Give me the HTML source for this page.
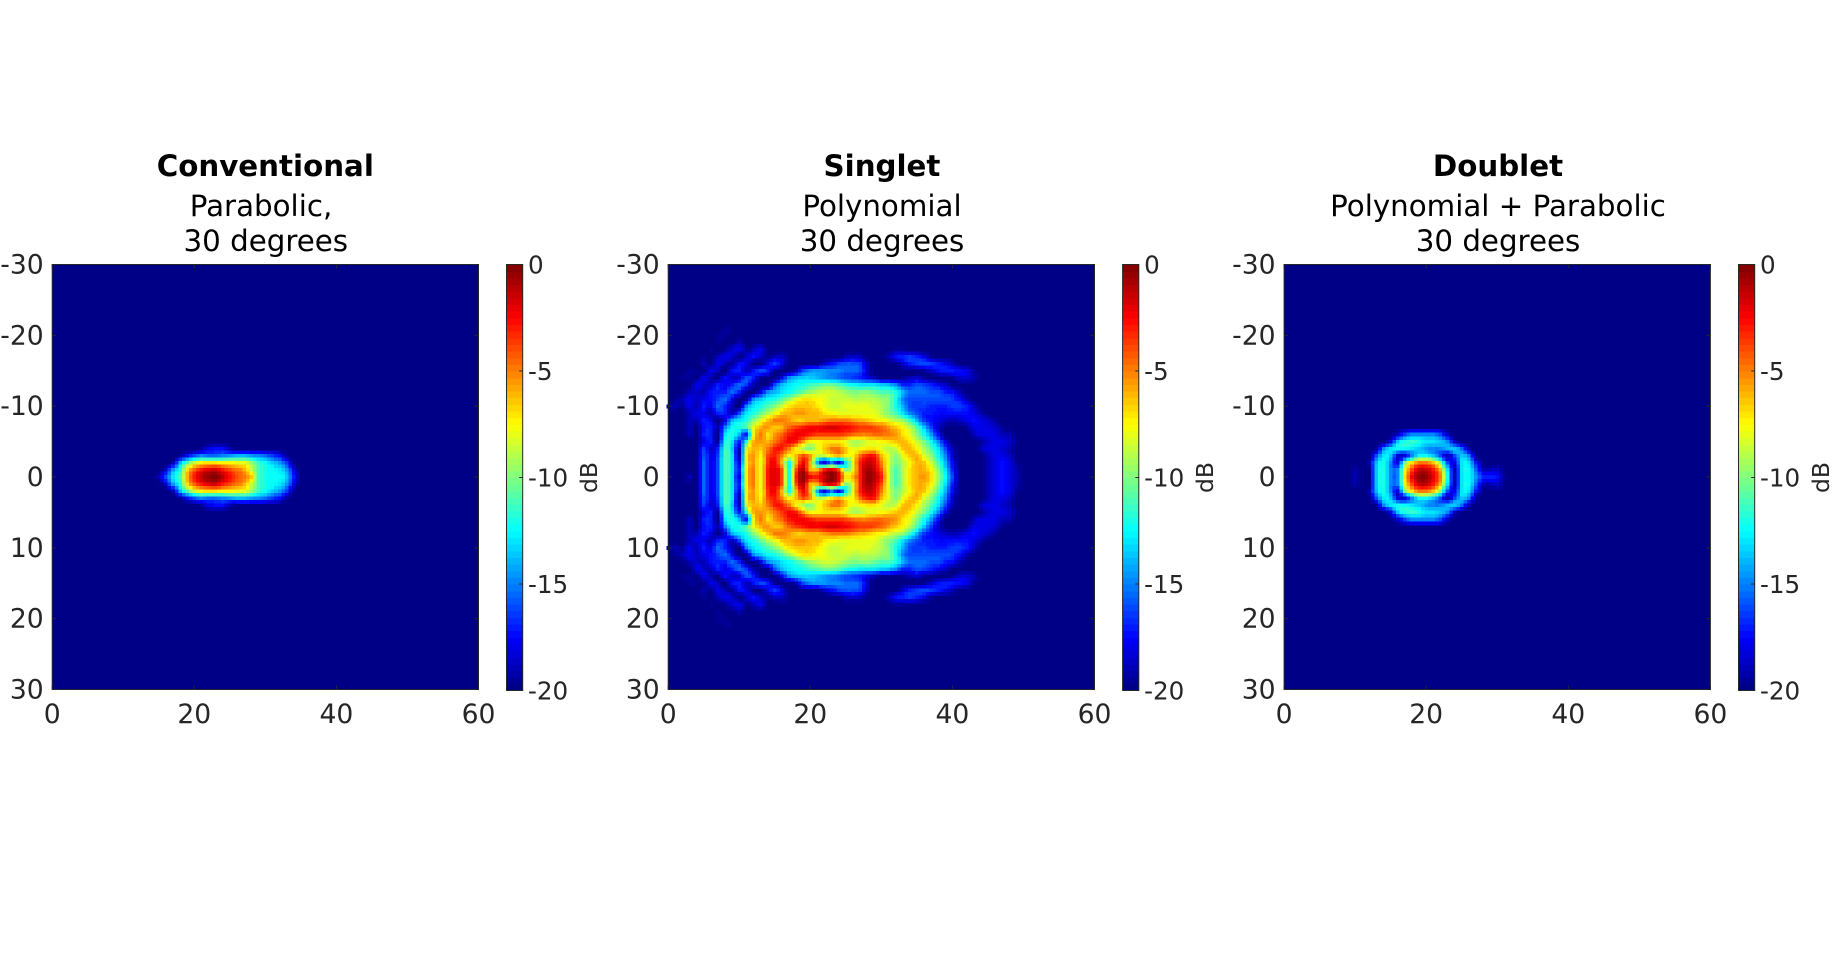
<!DOCTYPE html>
<html lang="en">
<head>
<meta charset="utf-8">
<title>Conventional, Singlet and Doublet heatmaps</title>
<style>
  html, body { margin: 0; padding: 0; background: #fff; width: 1848px; height: 954px; overflow: hidden; }
  svg { display: block; font-family: "DejaVu Sans", "Liberation Sans", sans-serif; }
  .title { font-size: 29.3px; font-weight: bold; fill: #000; text-anchor: middle; }
  .sub { font-size: 29.3px; fill: #000; text-anchor: middle; }
</style>
</head>
<body>
<svg id="chart" xmlns="http://www.w3.org/2000/svg" width="1848" height="954" viewBox="0 0 1848 954">
  <rect x="0" y="0" width="1848" height="954" fill="#fff"/>
  <g>
    <text class="title" x="265.3" y="176">Conventional</text>
    <text class="sub" x="261" y="216">Parabolic,</text>
    <text class="sub" x="265.8" y="251">30 degrees</text>
  </g>
  <g>
    <text class="title" x="882" y="176">Singlet</text>
    <text class="sub" x="882" y="216">Polynomial</text>
    <text class="sub" x="882" y="251">30 degrees</text>
  </g>
  <g>
    <text class="title" x="1498" y="176">Doublet</text>
    <text class="sub" x="1498" y="216">Polynomial + Parabolic</text>
    <text class="sub" x="1498" y="251">30 degrees</text>
  </g>
</svg>
<script>
// Tick labels
const xTickValues = [0, 20, 40, 60];
const yTickValues = [-30, -20, -10, 0, 10, 20, 30];
const colorbarTickValues = [0, -5, -10, -15, -20];

// Heatmap values in dB. Row index = |elevation| in degrees (the pattern is mirrored about 0).
// Each row starts at the azimuth given in the matching *FirstX array, one value per degree.
const conventionalFirstX = [14, 15, 16, 18, 21];
const conventionalDb = [
  [-20,-19,-16,-13,-11,-6,-3,-1.3,-0.4,-0.2,-1.2,-2.8,-4,-5,-6.5,-11,-12,-12.5,-12.5,-13.5,-17,-20],
  [-20,-18.5,-14.5,-12,-7,-4.5,-3,-2,-1.7,-3,-4,-4.8,-6,-8.5,-11,-12,-12.5,-13,-14.5,-18,-20],
  [-20,-19,-14,-11,-8.5,-7.5,-7,-7,-7.5,-7.5,-8,-8,-9.5,-11.5,-12.5,-13.5,-14.5,-16.5,-20],
  [-19.5,-17.5,-16,-15,-15.5,-15.5,-15,-14.5,-14,-14,-14.5,-15,-15.5,-16.5,-17.5,-19.5,-20],
  [-19.5,-18,-17.5,-17.5,-19,-20]
];

const singletFirstX = [3, 5, 5, 5, 5, 5, 3, 3, 3, 3, 0, 1, 2, 3, 2, 3, 4, 5, 6, 7, 7, 8];
const singletDb = [
  [-19,-20,-15.5,-18,-16,-11,-13,-18,-7.5,-5,-8,-3,-2,-4,-12,-3,-0.5,-2.5,-3,-1.5,-0.2,-2,-7,-6,-3,-0.5,-1,-3,-8,-11,-9,-7,-6,-5.5,-7,-9.5,-12.5,-16,-20,-20,-20,-20,-19,-18,-17.5,-18,-19],
  [-15.5,-18,-16,-11,-13,-17,-7.5,-5,-8,-3,-2,-4,-12,-4,-1,-6,-6,-3,-2,-4,-10,-8,-3,-0.7,-1.5,-4,-8,-11,-9,-7,-6,-6,-7.5,-10,-13,-17,-20,-20,-20,-20,-19,-18,-17.5,-18,-19],
  [-15.5,-18,-16,-11,-13,-18,-8,-5.5,-8,-3.5,-2.5,-6,-12,-6,-2.5,-6,-14,-18,-15,-18,-13,-8,-3,-1.5,-2,-5,-8,-10,-9,-7.5,-6,-6.5,-8.5,-11,-14,-17.5,-20,-20,-20,-20,-19,-18,-17.5,-18,-19.5],
  [-16,-18,-16.5,-11,-13,-19,-8,-5.5,-7.5,-4,-3,-5,-7.5,-6,-4,-5.5,-8.5,-8.5,-7,-6,-7.5,-7.5,-4.5,-3,-3,-6,-8,-10,-8,-6.5,-6,-8,-10,-12.5,-15,-18.5,-20,-20,-20,-20,-19,-18,-18,-18.5,-20],
  [-16.5,-18.5,-17,-11.5,-13.5,-18.5,-9,-6,-6.5,-5,-3,-3,-5,-7.5,-9,-10,-8,-6.5,-5,-5,-6.5,-8,-7.5,-7,-7,-8,-9,-8.5,-6.5,-6,-7.5,-9,-11,-13,-16,-19,-20,-20,-20,-19,-18,-18,-18.5,-19],
  [-18,-17,-19.5,-12,-13,-17,-12,-6,-5.5,-6,-5,-3.5,-2.5,-3,-5.5,-7.5,-7.5,-7,-7,-7,-8,-9,-9,-8,-8,-7.5,-7,-6.5,-6,-7,-8.5,-10,-12.5,-15,-18,-20,-20,-20,-20,-19.5,-18.5,-18,-18,-18.5,-19.5],
  [-19,-20,-17,-17,-20,-13,-12,-14,-17,-8,-5,-7,-5.5,-4.5,-3,-2.5,-2.5,-3,-3.5,-3.5,-3.5,-3.5,-4,-4.5,-5,-5,-4.5,-4.5,-5,-5.5,-7,-8,-10,-12,-14.5,-17.5,-20,-20,-20,-20,-19,-18,-18,-18,-19,-19,-20],
  [-19,-20,-17.5,-17,-19,-15,-12.5,-12,-11,-8,-6,-5.5,-6.5,-6,-4.5,-3.5,-3,-2.5,-2.5,-2,-1.8,-2,-2.5,-3,-3.5,-3.5,-4,-4.5,-5.5,-6.5,-7.5,-9,-11,-13.5,-16.5,-18.5,-20,-20,-20,-19.5,-18,-18,-18,-18.5,-19.5,-20],
  [-19,-19,-17,-18,-20,-18,-14,-13,-12,-10,-8,-6.5,-5,-5,-5.5,-6.5,-6.5,-6,-6,-5.5,-5,-5,-5,-5.5,-6,-6.5,-7,-7.5,-8,-9,-9.5,-11.5,-14,-16.5,-17.5,-18,-18.5,-19,-18.5,-18,-17.5,-18,-18.5,-19.5,-20],
  [-19,-18,-18,-19,-17,-17,-19,-16,-13,-12,-10.5,-9,-8,-6.5,-6,-5.5,-5.5,-6,-6,-7,-7.5,-8,-8,-8,-8,-8,-8,-9,-10,-11,-13,-15,-16,-17,-17,-17.5,-17.5,-17.5,-17.5,-17.5,-18,-19,-20],
  [-19.5,-19,-19.5,-18,-19,-17,-18,-15.5,-17,-19,-20,-15,-13,-12,-11,-10,-8.5,-7,-6.5,-6.5,-6.5,-7,-8,-8.5,-8.5,-8,-8,-8,-8,-8.5,-9,-10,-12,-14,-16,-16.5,-16.5,-17,-17,-17,-16.5,-16.5,-17,-18.5,-20],
  [-19.5,-19,-18,-18.5,-18,-17.5,-16.5,-15.5,-18,-20,-19.5,-15,-13.5,-12.5,-12,-11,-9.5,-8,-7,-7,-7.5,-8,-8.5,-8.5,-8.5,-9,-9,-9,-9,-9.5,-10,-12,-15,-16,-16,-16,-16,-16,-16,-16.5,-17.5,-19,-20],
  [-20,-19,-18.5,-19,-17.5,-17,-17,-15.5,-17,-20,-20,-18,-15,-14,-13,-12.5,-11.5,-10.5,-9.5,-9,-8.5,-8.5,-9,-9.5,-10,-10,-10,-10.5,-11,-11,-12,-14,-15.5,-15.5,-15.5,-16,-16,-17,-17.5,-19,-20],
  [-20,-18,-18.5,-19,-17,-18,-17,-15.5,-16.5,-19,-20,-20,-16,-14,-13,-12.5,-12,-11.5,-11,-10.5,-10.5,-11,-12,-12.5,-13,-13,-13,-13.5,-14,-15,-17,-17,-16,-16.5,-17,-18,-18.5,-20],
  [-19.5,-19.5,-20,-18,-19,-20,-17.5,-18.5,-18.5,-16,-17,-19.5,-20,-20,-18,-15,-14,-13.5,-13.5,-14,-14.5,-15,-15.5,-16,-16.5,-17,-18,-19,-20,-20,-20,-19.5,-19,-18.5,-19.5,-20,-20,-20,-19.5,-18.5,-18.5,-19,-20],
  [-19.5,-19.5,-20,-18,-19,-20,-17.5,-17,-19,-17.5,-16,-17,-19.5,-20,-20,-19,-16,-15,-14.5,-14.5,-15,-15,-15.5,-15.5,-16,-18.5,-20,-20,-20,-20,-20,-20,-20,-19.5,-18.5,-17.5,-17,-17,-17.5,-18,-19.5],
  [-20,-19,-20,-18,-19,-19.5,-17.5,-18,-20,-20,-18,-16.5,-18,-20,-20,-20,-20,-20,-18.5,-17.5,-16.5,-16,-16,-16.5,-19,-20,-20,-20,-20,-18.5,-17,-16.5,-16,-16.5,-17,-18,-19,-20],
  [-19.5,-20,-19,-18,-18.5,-20,-18.5,-17.5,-18.5,-19.5,-19,-18.5,-20,-20,-20,-20,-20,-20,-20,-20,-19,-18.5,-19,-20,-20,-20,-19,-17.5,-17,-16.5,-17,-18,-19.5,-20],
  [-19.5,-20,-19.5,-18.5,-18,-19.5,-19,-18,-20,-20,-20,-20,-20,-20,-20,-20,-20,-20,-20,-20,-20,-20,-20,-20,-20,-20,-19.5,-19.5,-20],
  [-19.5,-20,-20,-19,-20],
  [-19.5,-19.5,-20],
  [-19.5,-19.7,-20]
];

const doubletFirstX = [9, 9, 12, 12, 12, 14, 15];
const doubletDb = [
  [-20,-19,-20,-20,-13.5,-12,-15,-15,-7,-2.5,-0.4,-0.4,-2,-5,-12,-19,-13,-12.5,-14.5,-17,-17,-17.5,-19.5,-20],
  [-20,-19.2,-20,-20,-13.5,-12,-15,-15,-8,-4,-1.5,-1.5,-3,-6,-13,-19,-13,-12.5,-15.5,-19,-19,-18.5,-20],
  [-19,-14,-12,-15,-18,-10.5,-7,-5,-5,-6.5,-10,-16,-18,-13,-13,-17,-20],
  [-20,-16,-13,-13.5,-18,-18,-15,-12.5,-12.5,-13.5,-16,-19,-16,-13.5,-15,-20,-20],
  [-20,-19.5,-15,-13,-12.5,-12.5,-13,-13.5,-14.5,-15,-15,-14,-13.5,-15.5,-19,-20],
  [-20,-18,-13.5,-12,-11.5,-12,-13,-13,-13.5,-15,-18.5,-20],
  [-20,-18.5,-16.5,-15,-15,-15,-15,-16,-18.5,-20]
];

const SVG_NS = 'http://www.w3.org/2000/svg';
const chart = document.getElementById('chart');
const panelTop = 264.5;
const panelHeight = 425;
const panelWidth = 426.3;
const panels = [
  { key: 'conventional', left: 52.2, cbLeft: 506.5, rows: conventionalDb, firstX: conventionalFirstX },
  { key: 'singlet', left: 668.2, cbLeft: 1122.6, rows: singletDb, firstX: singletFirstX },
  { key: 'doublet', left: 1284.1, cbLeft: 1738.5, rows: doubletDb, firstX: doubletFirstX }
];

function make(tag, attrs, parent) {
  const el = document.createElementNS(SVG_NS, tag);
  for (const k in attrs) el.setAttribute(k, attrs[k]);
  parent.appendChild(el);
  return el;
}
function clamp01(v) { return Math.max(0, Math.min(1, v)); }
function jet(db) {
  // 64-level jet colormap over -20..0 dB
  const level = Math.min(63, Math.floor(clamp01((db + 20) / 20) * 64));
  const t = (level + 0.5) / 64;
  const r = clamp01(Math.min(4 * t - 1.5, -4 * t + 4.5));
  const g = clamp01(Math.min(4 * t - 0.5, -4 * t + 3.5));
  const b = clamp01(Math.min(4 * t + 0.5, -4 * t + 2.5));
  return 'rgb(' + Math.round(r * 255) + ',' + Math.round(g * 255) + ',' + Math.round(b * 255) + ')';
}
function xScale(panel, deg) { return panel.left + deg * panelWidth / 60; }
function yScale(deg) { return panelTop + (deg + 30) * panelHeight / 60; }
function cbScale(db) { return panelTop + (-db) * (panelHeight + 1) / 20; }
function gridValue(panel, xi, yi) {
  const yAbs = Math.abs(yi);
  const row = panel.rows[yAbs];
  if (!row) return -20;
  const v = row[xi - panel.firstX[yAbs]];
  return v === undefined ? -20 : v;
}
function cubic(a, b, c, d, t) {
  return b + 0.5 * t * (c - a + t * (2 * a - 5 * b + 4 * c - d + t * (3 * (b - c) + d - a)));
}
function sample(panel, x, y) {
  // Smooth shading between the read grid values
  const x0 = Math.floor(x), y0 = Math.floor(y);
  const fx = x - x0, fy = y - y0;
  const col = [];
  for (let j = -1; j <= 2; j++) {
    col.push(cubic(
      gridValue(panel, x0 - 1, y0 + j),
      gridValue(panel, x0, y0 + j),
      gridValue(panel, x0 + 1, y0 + j),
      gridValue(panel, x0 + 2, y0 + j),
      fx
    ));
  }
  return Math.max(-20, Math.min(0, cubic(col[0], col[1], col[2], col[3], fy)));
}

panels.forEach(function (panel) {
  const group = make('g', {}, chart);
  
  

  const background = make('rect', { x: panel.left, y: panelTop, width: panelWidth, height: panelHeight, fill: jet(-20) }, group);
  
  

  const heat = make('g', { 'shape-rendering': 'crispEdges' }, group);
  
  
  const step = 0.5;
  for (let yi = -48; yi <= 48; yi++) {
    for (let xi = 0; xi < 120; xi++) {
      const xDeg = xi * step, yDeg = yi * step;
      const v = sample(panel, xDeg, yDeg);
      if (v <= -19.7) continue;
      const x0 = xScale(panel, xDeg - step / 2), x1 = xScale(panel, xDeg + step / 2);
      const y0 = yScale(yDeg - step / 2), y1 = yScale(yDeg + step / 2);
      const cell = make('rect', { x: x0.toFixed(2), y: y0.toFixed(2), width: (x1 - x0 + 0.6).toFixed(2), height: (y1 - y0 + 0.6).toFixed(2), fill: jet(v) }, heat);
      
      
    }
  }

  const box = make('rect', { x: panel.left, y: panelTop, width: panelWidth, height: panelHeight, fill: 'none', stroke: '#262626', 'stroke-width': 1 }, group);
  
  

  xTickValues.forEach(function (t) {
    const x = xScale(panel, t);
    const bottomTick = make('line', { x1: x, x2: x, y1: panelTop + panelHeight, y2: panelTop + panelHeight - 4, stroke: '#262626' }, group);
    
    
    const topTick = make('line', { x1: x, x2: x, y1: panelTop, y2: panelTop + 4, stroke: '#262626' }, group);
    
    
    const label = make('text', { x: x, y: 723, 'font-size': 26.6, fill: '#262626', 'text-anchor': 'middle' }, group);
    
    
    label.textContent = String(t);
  });

  yTickValues.forEach(function (t) {
    const y = yScale(t);
    const leftTick = make('line', { x1: panel.left, x2: panel.left + 4, y1: y, y2: y, stroke: '#262626' }, group);
    
    
    const rightTick = make('line', { x1: panel.left + panelWidth, x2: panel.left + panelWidth - 4, y1: y, y2: y, stroke: '#262626' }, group);
    
    
    const label = make('text', { x: panel.left - 8.5, y: y + 9, 'font-size': 26.6, fill: '#262626', 'text-anchor': 'end' }, group);
    
    
    label.textContent = String(t);
  });

  const bar = make('g', { 'shape-rendering': 'crispEdges' }, group);
  
  
  const levels = 64;
  for (let i = 0; i < levels; i++) {
    const dbTop = -20 + 20 * (i + 1) / levels;
    const dbBottom = -20 + 20 * i / levels;
    const y0 = cbScale(dbTop), y1 = cbScale(dbBottom);
    const seg = make('rect', { x: panel.cbLeft, y: y0.toFixed(2), width: 16.2, height: (y1 - y0 + 0.6).toFixed(2), fill: jet((dbTop + dbBottom) / 2) }, bar);
    
    
  }
  const cbBox = make('rect', { x: panel.cbLeft, y: panelTop, width: 16.2, height: panelHeight + 1, fill: 'none', stroke: '#262626', 'stroke-width': 1 }, group);
  
  

  colorbarTickValues.forEach(function (t) {
    const y = cbScale(t);
    const tick = make('line', { x1: panel.cbLeft + 16.2, x2: panel.cbLeft + 12.7, y1: y, y2: y, stroke: '#262626' }, group);
    
    
    const label = make('text', { x: panel.cbLeft + 21.5, y: y + 9, 'font-size': 24.6, fill: '#262626' }, group);
    
    
    label.textContent = String(t);
  });

  const unitX = panel.cbLeft + 90.5;
  const unit = make('text', { x: 0, y: 0, 'font-size': 23.5, fill: '#262626', 'text-anchor': 'middle', transform: 'translate(' + unitX + ',477.5) rotate(-90)' }, group);
  
  
  unit.textContent = 'dB';
});
</script>
</body>
</html>
